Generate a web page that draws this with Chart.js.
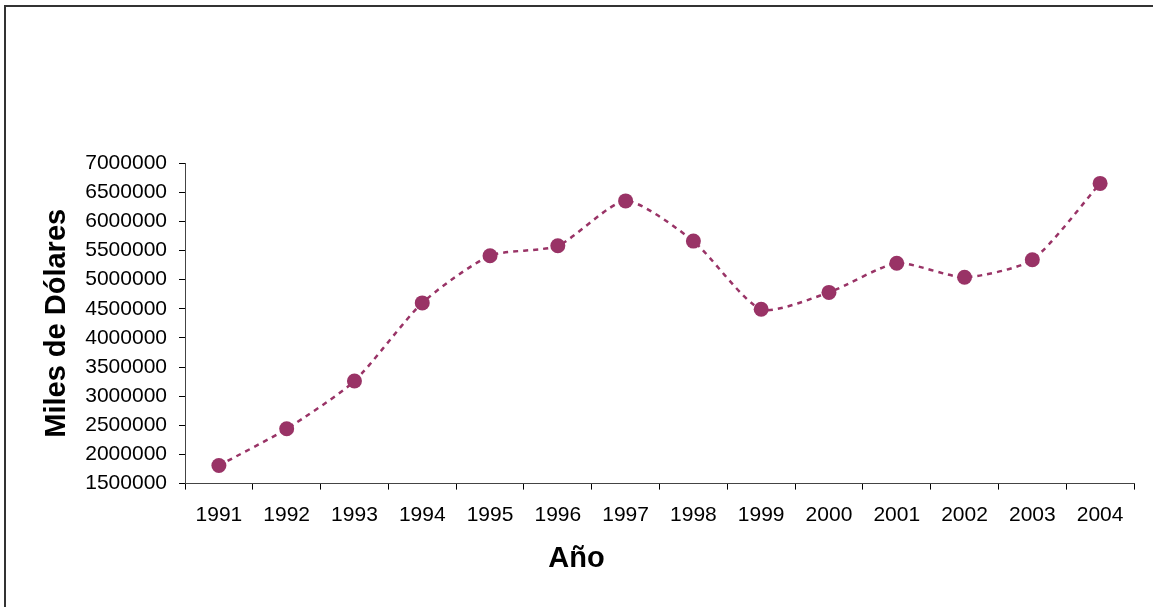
<!DOCTYPE html>
<html>
<head>
<meta charset="utf-8">
<script src="https://cdn.jsdelivr.net/npm/chart.js@4"></script>
<style>
  body { margin: 0; background: #fff; overflow: hidden; }
  #wrap { position: relative; width: 1153px; height: 607px; }
  #marco {
    position: absolute; left: 4px; top: 5px; width: 1200px; height: 700px;
    border: 2px solid #333; box-sizing: border-box; pointer-events: none;
  }
</style>
</head>
<body>
<div id="wrap">
  <canvas id="grafico" width="1153" height="607"></canvas>
  <div id="marco"></div>
</div>
<script>
// datos
const anios = ['1991', '1992', '1993', '1994', '1995', '1996', '1997',
               '1998', '1999', '2000', '2001', '2002', '2003', '2004'];
const valores = [1810000, 2440000, 3260000, 4600000, 5410000, 5580000, 6350000,
                 5660000, 4490000, 4780000, 5280000, 5040000, 5340000, 6650000];
const ejeYMin = 1500000;
const ejeYMax = 7000000;
const pasoY = 500000;

const colorSerie = '#993366';
const fuente = 'Liberation Sans, Arial, sans-serif';

const ctx = document.getElementById('grafico').getContext('2d');

new Chart(ctx, {
    type: 'line',
    data: {
        labels: anios,
        datasets: [{
            label: 'Miles de Dólares',
            data: valores,
            borderColor: colorSerie,
            backgroundColor: colorSerie,
            borderWidth: 2.5,
            borderDash: [5, 5],
            tension: 0.22,
            pointRadius: 7.5,
            pointBorderWidth: 0,
            pointBackgroundColor: colorSerie,
            fill: false
        }]
    },
    options: {
        responsive: false,
        animation: false,
        layout: {
            padding: { left: 19, right: 19, top: 163, bottom: 31 }
        },
        scales: {
            x: {
                offset: true,
                grid: {
                    offset: true,
                    drawOnChartArea: false,
                    drawTicks: true,
                    tickLength: 6,
                    color: '#000'
                },
                border: { display: true, color: '#444', width: 1 },
                ticks: {
                    color: '#000',
                    padding: 13,
                    maxRotation: 0,
                    font: { family: fuente, size: 21 }
                },
                afterFit: (escala) => { escala.height = 57.6; }
            },
            y: {
                min: ejeYMin,
                max: ejeYMax,
                grid: {
                    drawOnChartArea: false,
                    drawTicks: true,
                    tickLength: 6,
                    color: '#000'
                },
                border: { display: true, color: '#444', width: 1 },
                ticks: {
                    stepSize: pasoY,
                    color: '#000',
                    padding: 12,
                    font: { family: fuente, size: 21 },
                    callback: (v) => String(v)
                },
                title: {
                    display: true,
                    text: 'Miles de Dólares',
                    color: '#000',
                    padding: { top: 21, bottom: 0 },
                    font: { family: fuente, size: 29, weight: 'bold' }
                },
                afterFit: (escala) => { escala.width = 166; }
            }
        },
        plugins: {
            legend: { display: false },
            tooltip: { enabled: false },
            // título del eje X, centrado en todo el ancho como en el original
            title: {
                display: true,
                position: 'bottom',
                text: 'Año',
                color: '#000',
                padding: 0,
                font: { family: fuente, size: 29, weight: 'bold' }
            }
        }
    }
});
</script>
</body>
</html>
